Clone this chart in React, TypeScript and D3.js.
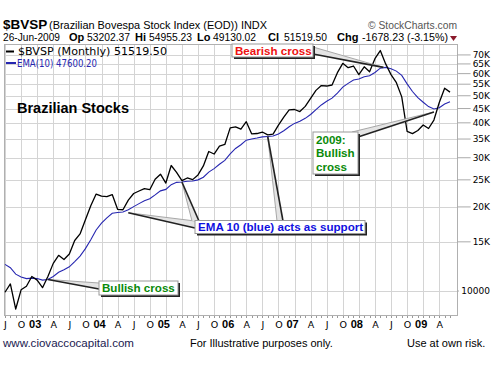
import React from 'react';
import * as d3 from 'd3';

// monthly closes, Jul 2002 .. Jun 2009
const closes = [
  9900, 10600, 8620, 10100, 10400, 11270, 10940, 10280, 11270, 12560, 13420, 12970,
  13570, 15170, 16010, 17980, 20180, 22240, 21850, 21760, 22140, 19610, 19540, 21150,
  22340, 22800, 23250, 23050, 25130, 26200, 24350, 28140, 26610, 24840, 25390, 25050,
  26040, 28040, 31580, 30930, 33000, 33460, 38380, 38670, 37950, 40370, 36530, 36630,
  37080, 36230, 36450, 39260, 41930, 44470, 44640, 43890, 45800, 48960, 52270, 54390,
  54180, 54640, 60470, 65320, 63010, 63890, 59490, 63490, 60970, 67870, 72590, 65020,
  59510, 55680, 49540, 37260, 36600, 37550, 39300, 38180, 40930, 47290, 53200, 51520,
];

const ema10 = [
  12460, 12120, 11490, 11230, 11080, 11120, 11080, 10940, 11000, 11280, 11670, 11910,
  12210, 12750, 13340, 14180, 15270, 16540, 17500, 18280, 18980, 19100, 19180, 19540,
  20050, 20550, 21040, 21400, 22080, 22830, 23110, 24020, 24490, 24560, 24710, 24770,
  25000, 25550, 26650, 27430, 28440, 29350, 30990, 32390, 33400, 34670, 35010, 35300,
  35630, 35740, 35870, 36480, 37470, 38740, 39820, 40560, 41510, 42860, 44570, 46360,
  47780, 49030, 51110, 53690, 55390, 56930, 57400, 58510, 58950, 60570, 62760, 63170,
  62510, 61260, 59130, 55160, 51780, 49200, 47400, 45720, 44850, 45290, 46730, 47600,
];

// one label every 3 months starting Jul 2002
const monthTicks = [
  'J', 'O', '03', 'A', 'J', 'O', '04', 'A', 'J', 'O', '05', 'A', 'J', 'O',
  '06', 'A', 'J', 'O', '07', 'A', 'J', 'O', '08', 'A', 'J', 'O', '09', 'A',
];

const priceTicks = [10000, 15000, 20000, 25000, 30000, 35000, 40000, 45000, 50000, 55000, 60000, 65000, 70000];
const priceTickLabels = ['10000', '15K', '20K', '25K', '30K', '35K', '40K', '45K', '50K', '55K', '60K', '65K', '70K'];

// header quote line: [label, value, labelX, valueX]
const quoteFields: [string, string, number, number][] = [
  ['Op', '53202.37', 69, 87],
  ['Hi', '54955.23', 135, 149],
  ['Lo', '49130.02', 197, 213],
  ['Cl', '51519.50', 268, 284],
];

const W = 497;
const H = 369;
const frame = { left: 4, right: 457, top: 44, bottom: 315 };
const sans = 'Liberation Sans, Arial, sans-serif';
const verd = 'DejaVu Sans, Verdana, sans-serif';

type Pt = [number, number];

function Callout({ box, lines, color, wedges, baselines }: {
  box: { x: number; y: number; w: number; h: number };
  lines: string[];
  color: string;
  wedges: { tip: Pt; a: Pt; b: Pt }[];
  baselines: number[];
}) {
  return (
    <g>
      {wedges.map((w, i) => (
        <g key={i}>
          <polygon points={[w.tip, w.a, w.b].map((p) => p.join(',')).join(' ')} fill="#e4e4e4" />
          <line x1={w.tip[0]} y1={w.tip[1]} x2={w.a[0]} y2={w.a[1]} stroke="#a8a8a8" strokeWidth={1} />
          <line x1={w.tip[0]} y1={w.tip[1]} x2={w.b[0]} y2={w.b[1]} stroke="#222" strokeWidth={1.6} />
        </g>
      ))}
      <rect x={box.x + 2} y={box.y + 2} width={box.w} height={box.h} fill="#222" />
      <rect x={box.x} y={box.y} width={box.w} height={box.h} fill="#fff" stroke="#999" strokeWidth={1} />
      {lines.map((t, i) => (
        <text key={i} x={box.x + 3} y={baselines[i]} fill={color} fontFamily={sans} fontWeight="bold" fontSize={11.6}>
          {t}
        </text>
      ))}
    </g>
  );
}

export default function App() {
  const x = d3.scaleLinear().domain([0, closes.length - 1]).range([5, 450]);
  const y = d3.scaleLog().domain([8140, 76600]).range([316, 44]);

  const line = d3
    .line<number>()
    .x((_, i) => x(i))
    .y((d) => y(d));

  const quarterIdx = monthTicks.map((_, i) => i * 3);

  const tip = (m: number, dy = 0): Pt => [x(m), y(ema10[m]) + dy];

  return (
    <svg width={W} height={H} style={{ position: 'absolute', left: 0, top: 0, background: '#fff' }}>
      {/* header */}
      <text x={3} y={29} fontFamily={sans} fontWeight="bold" fontSize={13.5}>$BVSP</text>
      <text x={49} y={29} fontFamily={sans} fontSize={11} textLength={218} lengthAdjust="spacingAndGlyphs">
        (Brazilian Bovespa Stock Index (EOD)) INDX
      </text>
      <text x={368} y={29} fontFamily={sans} fontSize={11} fill="#555" textLength={89} lengthAdjust="spacingAndGlyphs">
        © StockCharts.com
      </text>
      <g fontFamily={sans} fontSize={10.5}>
        <text x={3} y={41} textLength={57} lengthAdjust="spacingAndGlyphs">26-Jun-2009</text>
        {quoteFields.map(([lab, val, lx, vx]) => (
          <g key={lab}>
            <text x={lx} y={41} fontWeight="bold" fontSize={11}>{lab}</text>
            <text x={vx} y={41} textLength={43} lengthAdjust="spacingAndGlyphs">{val}</text>
          </g>
        ))}
        <text x={337} y={41} fontWeight="bold" fontSize={11}>Chg</text>
        <text x={362} y={41} textLength={86} lengthAdjust="spacingAndGlyphs">-1678.23 (-3.15%)</text>
      </g>
      <path d="M450,36 L457,36 L453.5,41 Z" fill="#8b1a2b" />

      {/* grid */}
      <g stroke="#d4d4d4" strokeWidth={1}>
        {priceTicks.map((t) => (
          <line key={t} x1={frame.left} x2={frame.right} y1={Math.round(y(t)) + 0.5} y2={Math.round(y(t)) + 0.5} />
        ))}
        {quarterIdx.map((m) => (
          <line key={m} x1={Math.round(x(m)) + 0.5} x2={Math.round(x(m)) + 0.5} y1={frame.top} y2={frame.bottom} />
        ))}
      </g>
      <rect x={frame.left + 0.5} y={frame.top + 0.5} width={frame.right - frame.left} height={frame.bottom - frame.top} fill="none" stroke="#b0b0b0" />

      {/* monthly ticks */}
      <g stroke="#999">
        {closes.map((_, i) => (
          <line key={i} x1={Math.round(x(i)) + 0.5} x2={Math.round(x(i)) + 0.5} y1={frame.bottom + 1} y2={frame.bottom + 3} />
        ))}
      </g>

      {/* y axis (right) */}
      <g fontFamily={verd} fontSize={9}>
        {priceTicks.map((t, i) => {
          const lab = priceTickLabels[i];
          const tw = lab.length * 5.8;
          return (
            <g key={t}>
              <line x1={frame.right} x2={490 - tw - 2} y1={y(t)} y2={y(t)} stroke="#aaa" />
              <text x={490} y={y(t) + 3.3} textAnchor="end">{lab}</text>
            </g>
          );
        })}
      </g>

      {/* x axis */}
      <g fontFamily={verd}>
        {monthTicks.map((lab, i) => {
          const isYear = /\d/.test(lab);
          return (
            <text
              key={i}
              x={x(quarterIdx[i]) + (isYear ? -2 : 0.5)}
              y={328}
              textAnchor="middle"
              fontSize={isYear ? 11 : 9.5}
              fontWeight={isYear ? 'bold' : 'normal'}
              fontFamily={isYear ? sans : verd}
            >
              {lab}
            </text>
          );
        })}
      </g>

      {/* series */}
      <path d={line(ema10) || ''} fill="none" stroke="#2626b0" strokeWidth={1.1} />
      <path d={line(closes) || ''} fill="none" stroke="#000" strokeWidth={1.3} strokeLinejoin="round" />

      {/* legend */}
      <line x1={6} x2={14} y1={51.5} y2={51.5} stroke="#000" strokeWidth={2} />
      <text x={18} y={55} fontFamily={verd} fontSize={10} textLength={149} lengthAdjust="spacingAndGlyphs">$BVSP (Monthly) 51519.50</text>
      <line x1={6} x2={16} y1={63} y2={63} stroke="#2626b0" strokeWidth={2} />
      <text x={17} y={67} fontFamily={verd} fontSize={10} fill="#2626b0" textLength={80} lengthAdjust="spacingAndGlyphs">EMA(10) 47600.20</text>

      <text x={17} y={113} fontFamily={sans} fontWeight="bold" fontSize={14} textLength={112} lengthAdjust="spacingAndGlyphs">
        Brazilian Stocks
      </text>

      {/* annotations */}
      <Callout
        box={{ x: 99, y: 281, w: 79, h: 14 }}
        lines={['Bullish cross']}
        baselines={[291.5]}
        color="#0a8a0a"
        wedges={[{ tip: tip(8), a: [99, 283], b: [99, 289] }]}
      />
      <Callout
        box={{ x: 195, y: 220.5, w: 170, h: 13 }}
        lines={['EMA 10 (blue) acts as support']}
        baselines={[231]}
        color="#1010e0"
        wedges={[
          { tip: tip(23, 3), a: [195, 221], b: [195, 228] },
          { tip: tip(33), a: [192, 221], b: [199, 221] },
          { tip: tip(49), a: [277, 221], b: [283, 221] },
        ]}
      />
      <Callout
        box={{ x: 232, y: 44, w: 81, h: 13 }}
        lines={['Bearish cross']}
        baselines={[54.5]}
        color="#ee1111"
        wedges={[{ tip: [x(70.6), y(ema10[71])], a: [313, 47], b: [313, 54] }]}
      />
      <Callout
        box={{ x: 313, y: 132, w: 45, h: 42 }}
        lines={['2009:', 'Bullish', 'cross']}
        baselines={[143.5, 157, 170.5]}
        color="#0a8a0a"
        wedges={[{ tip: tip(80, 3), a: [352, 132], b: [358, 137] }]}
      />

      {/* footer */}
      <g fontFamily={sans} fontSize={11.5}>
        <text x={3} y={347} fill="#1a1a50" textLength={131} lengthAdjust="spacingAndGlyphs">www.ciovaccocapital.com</text>
        <text x={190} y={347} fontSize={11}>For Illustrative purposes only.</text>
        <text x={407} y={347} fontSize={11}>Use at own risk.</text>
      </g>
    </svg>
  );
}
